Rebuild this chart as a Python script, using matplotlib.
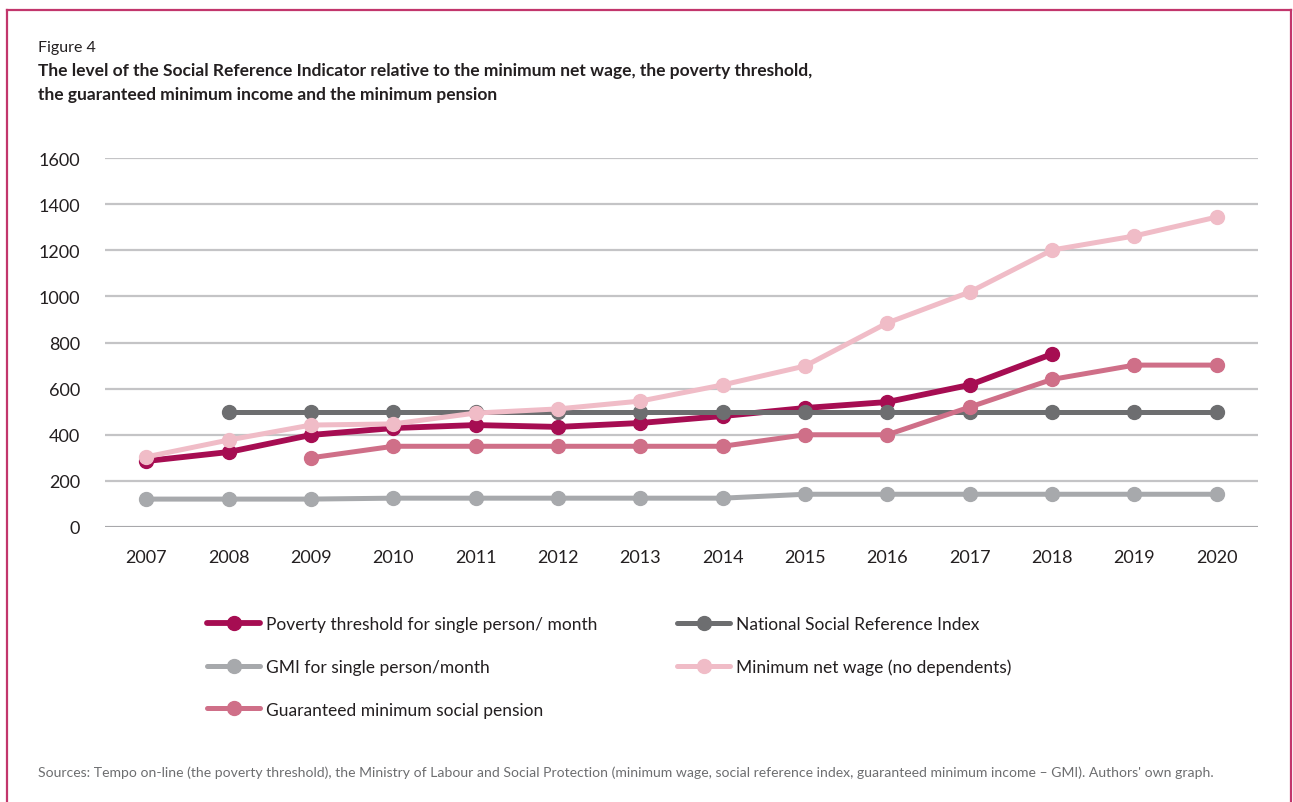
import numpy as np
import matplotlib.pyplot as plt
from matplotlib.lines import Line2D

plt.rcParams['font.family'] = ['Lato', 'DejaVu Sans']

years = np.arange(2007, 2021)

# values (lei / month)
poverty = [286, 325, 399, 429, 442, 434, 451, 481, 516, 542, 616, 750]            # 2007-2018
nsri = [500, 500, 500, 500, 500, 500, 500, 500, 500, 500, 500, 500, 500]          # 2008-2020
gmi = [121, 121, 121, 125, 125, 125, 125, 125, 142, 142, 142, 142, 142, 142]      # 2007-2020
min_wage = [304, 377, 442, 447, 494, 512, 546, 616, 698, 885, 1019, 1201, 1262, 1344]  # 2007-2020
pension = [300, 350, 350, 350, 350, 350, 400, 400, 520, 640, 702, 702]            # 2009-2020

labels = ['Poverty threshold for single person/ month',
          'National Social Reference Index',
          'GMI for single person/month',
          'Minimum net wage (no dependents)',
          'Guaranteed minimum social pension']
colors = ['#A60D52', '#6D6E70', '#A7A9AC', '#F0BCC7', '#CF6F88']

fig = plt.figure(figsize=(12.93, 8.03), dpi=100)

# frame around the figure (open at the bottom)
frame_col = '#C2366C'
fig.add_artist(Line2D([7/1293, 7/1293], [0, 1 - 11/803], color=frame_col, lw=1.6))
fig.add_artist(Line2D([7/1293, 1291/1293], [1 - 11/803, 1 - 11/803], color=frame_col, lw=1.6))
fig.add_artist(Line2D([1291/1293, 1291/1293], [0, 1 - 11/803], color=frame_col, lw=1.6))

ax = fig.add_axes([105/1293, 275/803, 1153/1293, 369/803])

series = [
    (years[:12], poverty, 0),
    (years[1:], nsri, 1),
    (years, gmi, 2),
    (years[2:], pension, 4),
    (years, min_wage, 3),
]
handles = {}
for x, y, i in series:
    lw = 4.2 if i == 0 else 3.6
    h, = ax.plot(x, y, color=colors[i], lw=lw, marker='o', markersize=10,
                 solid_capstyle='round', label=labels[i], zorder=3 + i * 0.1)
    handles[i] = h

ax.set_xlim(2006.5, 2020.5)
ax.set_ylim(0, 1600)
ax.set_yticks(np.arange(0, 1601, 200))
ax.set_xticks(years)
ax.yaxis.grid(True, color='#C4C4C6', lw=1.6)
ax.set_axisbelow(True)
for s in ax.spines.values():
    s.set_visible(False)
ax.axhline(0, color='#A0A0A3', lw=1.8, zorder=1)
ax.tick_params(length=0, labelsize=13, colors='#231F20')
ax.tick_params(axis='y', pad=18)
ax.tick_params(axis='x', pad=16)

order = [0, 2, 4, 1, 3]
leg = ax.legend([handles[i] for i in order], [labels[i] for i in order],
                ncol=2, loc='upper left', bbox_to_anchor=(0.075, -0.198),
                frameon=False, fontsize=12.5, handlelength=3.05,
                labelspacing=1.55, columnspacing=4.6, handletextpad=0.35)
for t in leg.get_texts():
    t.set_color('#231F20')

fig.text(38/1293, 1 - 48/803, 'Figure 4', fontsize=11.5, va='center', color='#231F20')
fig.text(38/1293, 1 - 83/803,
         'The level of the Social Reference Indicator relative to the minimum net wage, the poverty threshold,\n'
         'the guaranteed minimum income and the minimum pension',
         fontsize=12.5, fontweight='bold', va='center', color='#231F20', linespacing=1.55)
fig.text(38/1293, 1 - 773/803,
         'Sources: Tempo on-line (the poverty threshold), the Ministry of Labour and Social Protection '
         '(minimum wage, social reference index, guaranteed minimum income \u2013 GMI). Authors\' own graph.',
         fontsize=10.1, va='center', color='#6D6E70')

fig.savefig('out.png', dpi=100)
